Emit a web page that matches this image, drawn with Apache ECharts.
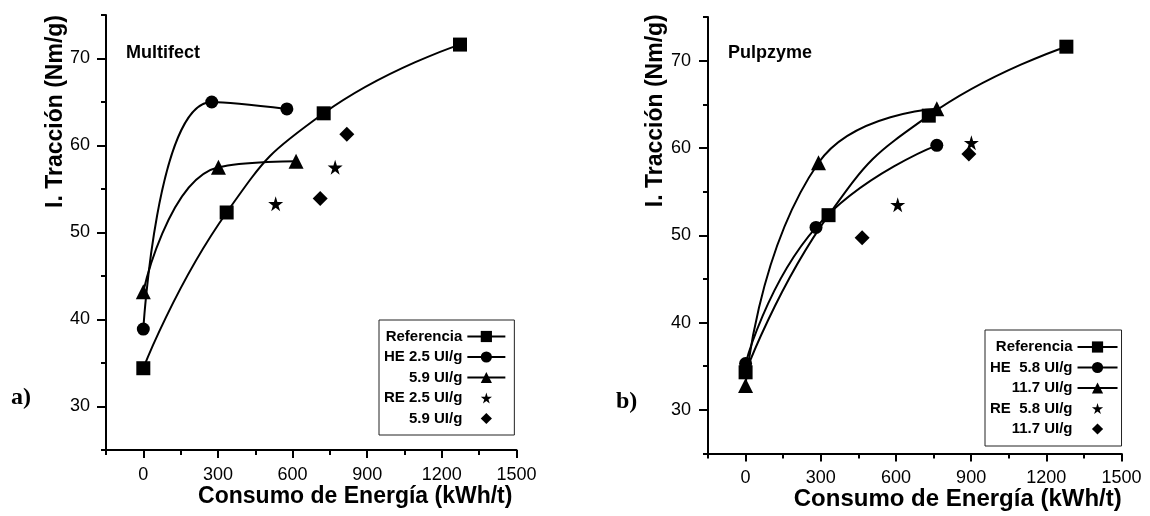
<!DOCTYPE html>
<html>
<head>
<meta charset="utf-8">
<script src="https://cdn.jsdelivr.net/npm/echarts@6/dist/echarts.min.js"></script>
<style>
  html, body { margin: 0; padding: 0; background: #fff; }
  #chart { width: 1150px; height: 516px; }
</style>
</head>
<body>
<div id="chart"></div>
<script>
// a) Multifect
const refXa = [0, 335, 725, 1273]
const refYa = [34.4, 52.3, 63.7, 71.6]
const he25X = [0, 275, 577]
const he25Y = [38.9, 65.0, 64.2]
const he59X = [0, 302, 614]
const he59Y = [43.2, 57.5, 58.2]
const re25X = [532, 771]
const re25Y = [53.3, 57.5]
const re59X = [711, 818]
const re59Y = [53.9, 61.3]

// b) Pulpzyme
const refXb = [0, 331, 731, 1280]
const refYb = [34.3, 52.3, 63.7, 71.6]
const he58X = [0, 281, 763]
const he58Y = [35.3, 50.9, 60.3]
const he117X = [0, 291, 763]
const he117Y = [32.8, 58.3, 64.5]
const re58X = [607, 901]
const re58Y = [53.5, 60.6]
const re117X = [465, 891]
const re117Y = [49.7, 59.3]

const legendA = ['Referencia', 'HE 2.5 UI/g', '5.9 UI/g', 'RE 2.5 UI/g', '5.9 UI/g']
const legendB = ['Referencia', 'HE  5.8 UI/g', '11.7 UI/g', 'RE  5.8 UI/g', '11.7 UI/g']

const xMajor = [0, 300, 600, 900, 1200, 1500]
const xMinor = [-150, 150, 450, 750, 1050, 1350]
const yMajor = [30, 40, 50, 60, 70]
const yMinor = [25, 35, 45, 55, 65, 75]

const font = "'Liberation Sans', Arial, sans-serif"
const star = 'path://M50,0 L61,35 L98,35 L68,57 L79,91 L50,70 L21,91 L32,57 L2,35 L39,35 Z'

const pairs = (xs, ys) => xs.map((x, i) => [x, ys[i]])

function curve(name, xs, ys, symbol, size, axis) {
  return {
    name, type: 'line', xAxisIndex: axis, yAxisIndex: axis,
    data: pairs(xs, ys), smooth: 0.5,
    symbol, symbolSize: size, showSymbol: true,
    lineStyle: { color: '#000', width: 2 },
    itemStyle: { color: '#000', opacity: 1 },
  }
}

// points only: the line is kept for the legend icon layout but not drawn
function dots(name, xs, ys, symbol, size, axis) {
  return {
    ...curve(name, xs, ys, symbol, size, axis),
    smooth: false,
    lineStyle: { color: '#000', width: 2, opacity: 0 },
  }
}

function xAxes(grid, margin, nameGap, nameSize, namePad) {
  const base = { type: 'value', gridIndex: grid, position: 'bottom', min: -150, max: 1500, interval: 150, splitLine: { show: false } }
  return [{
    ...base,
    axisLine: { onZero: false, lineStyle: { color: '#000', width: 2 } },
    axisTick: { customValues: xMajor, length: 8, lineStyle: { color: '#000', width: 2 } },
    axisLabel: { customValues: xMajor, formatter: v => (v % 300 === 0 ? v : ''), margin, color: '#000', fontSize: 18, fontFamily: font },
    name: 'Consumo de Energía (kWh/t)', nameLocation: 'middle', nameGap, nameMoveOverlap: false,
    nameTextStyle: { color: '#000', fontSize: nameSize, fontWeight: 'bold', fontFamily: font, padding: [0, 0, 0, namePad] },
  }, {
    ...base,
    axisLine: { show: false, onZero: false },
    axisTick: { customValues: xMinor, length: 5, lineStyle: { color: '#000', width: 2 } },
    axisLabel: { show: false },
  }]
}

function yAxes(grid, margin, nameGap, namePad) {
  const base = { type: 'value', gridIndex: grid, position: 'left', min: 25, max: 75, interval: 5, splitLine: { show: false } }
  return [{
    ...base,
    axisLine: { onZero: false, lineStyle: { color: '#000', width: 2 } },
    axisTick: { customValues: yMajor, length: 9, lineStyle: { color: '#000', width: 2 } },
    axisLabel: { customValues: yMajor, formatter: v => (v % 10 === 0 && v > 25 && v < 75 ? v : ''), margin, color: '#000', fontSize: 18, fontFamily: font },
    name: 'I. Tracción (Nm/g)', nameLocation: 'middle', nameGap, nameMoveOverlap: false,
    nameTextStyle: { color: '#000', fontSize: 23, fontWeight: 'bold', fontFamily: font, padding: [0, 0, 0, namePad] },
  }, {
    ...base,
    axisLine: { show: false, onZero: false },
    axisTick: { customValues: yMinor, length: 5, lineStyle: { color: '#000', width: 2 } },
    axisLabel: { show: false },
  }]
}

function legend(names, labels, left, top, width, padding) {
  return {
    data: names, orient: 'vertical', align: 'right',
    left, top, itemWidth: width, itemHeight: 14, itemGap: 5.5, padding,
    borderColor: '#222', borderWidth: 1,
    formatter: n => labels[names.indexOf(n)],
    textStyle: { color: '#000', fontSize: 15, fontWeight: 'bold', fontFamily: font, lineHeight: 15 },
  }
}

const namesA = ['a0', 'a1', 'a2', 'a3', 'a4']
const namesB = ['b0', 'b1', 'b2', 'b3', 'b4']

const chart = echarts.init(document.getElementById('chart'))
chart.setOption({
  animation: false,
  backgroundColor: '#fff',
  title: [
    { text: 'Multifect', left: 126, top: 44, padding: 0, textStyle: { color: '#000', fontSize: 18, fontWeight: 'bold', fontFamily: font } },
    { text: 'Pulpzyme', left: 728, top: 44, padding: 0, textStyle: { color: '#000', fontSize: 18, fontWeight: 'bold', fontFamily: font } },
    { text: 'a)', left: 11, top: 386, padding: 0, textStyle: { color: '#000', fontSize: 24, fontWeight: 'bold', fontFamily: "'Liberation Serif', serif" } },
    { text: 'b)', left: 616, top: 390, padding: 0, textStyle: { color: '#000', fontSize: 24, fontWeight: 'bold', fontFamily: "'Liberation Serif', serif" } },
  ],
  grid: [
    { left: 106, right: 633.5, top: 15, bottom: 66 },
    { left: 708, right: 28.5, top: 17, bottom: 58.7 },
  ],
  xAxis: [...xAxes(0, 16, 35.5, 23, 88), ...xAxes(1, 16, 33.5, 24, 86)],
  yAxis: [...yAxes(0, 16, 39, 242), ...yAxes(1, 17, 41, 249)],
  legend: [
    legend(namesA, legendA, 379, 320, 38, [9, 8, 9, 5]),
    legend(namesB, legendB, 985, 330, 40, [9.5, 3, 9.5, 5]),
  ],
  series: [
    curve('a0', refXa, refYa, 'rect', 14, 0),
    curve('a1', he25X, he25Y, 'circle', 13, 0),
    curve('a2', he59X, he59Y, 'triangle', 15, 0),
    dots('a3', re25X, re25Y, star, 15, 0),
    dots('a4', re59X, re59Y, 'diamond', 15, 0),
    curve('b0', refXb, refYb, 'rect', 14, 2),
    curve('b1', he58X, he58Y, 'circle', 13, 2),
    curve('b2', he117X, he117Y, 'triangle', 15, 2),
    dots('b3', re58X, re58Y, star, 15, 2),
    dots('b4', re117X, re117Y, 'diamond', 15, 2),
  ],
})
</script>
</body>
</html>
